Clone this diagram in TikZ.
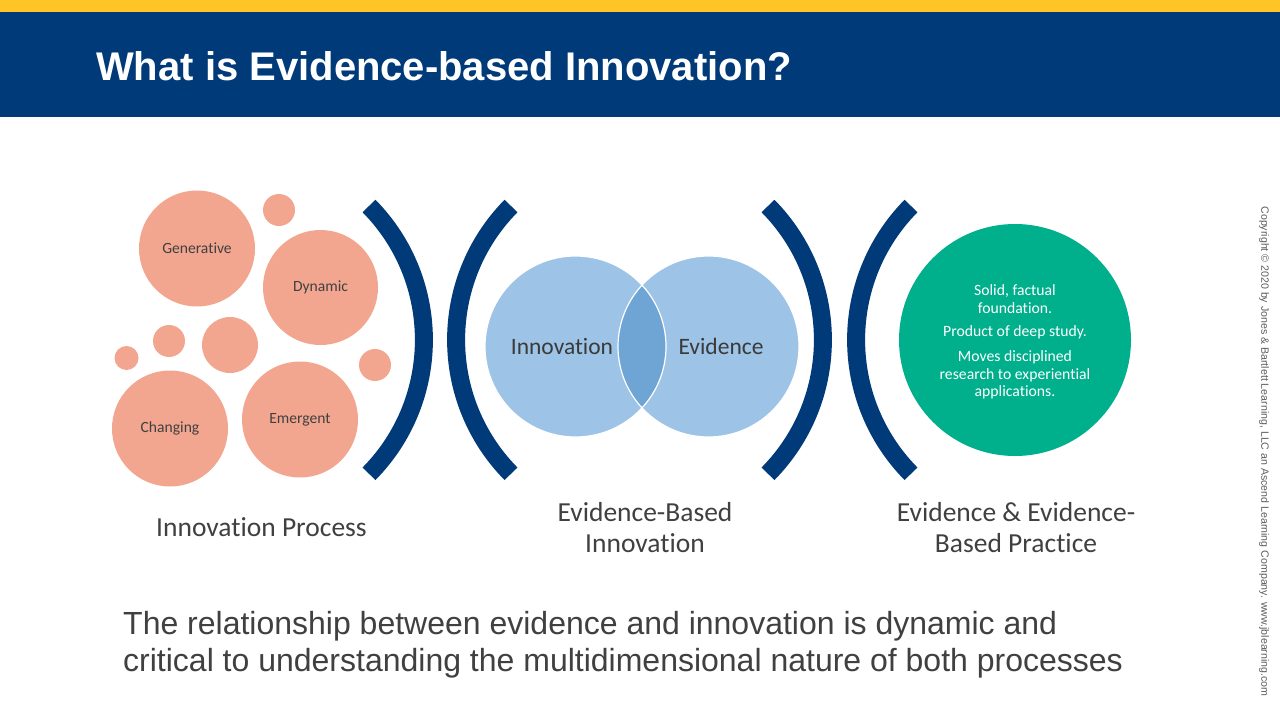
\documentclass[tikz,border=0pt]{standalone}
\usepackage{fontspec}
\setmainfont[Ligatures=NoCommon]{Carlito}
\newfontfamily\arialfont{Liberation Sans}
\usepackage{xcolor}
\usepackage{tikz}
\usetikzlibrary{positioning}
\definecolor{ebgold}{HTML}{FFC425}
\definecolor{ebnavy}{HTML}{003A78}
\definecolor{ebsalmon}{HTML}{F3A68F}
\definecolor{ebsky}{HTML}{9DC3E6}
\definecolor{ebskydark}{HTML}{6FA5D5}
\definecolor{ebgreen}{HTML}{00AF8C}
\definecolor{ebgray}{HTML}{404040}

\begin{document}
\begin{tikzpicture}[x=1pt,y=-1pt,inner sep=0pt,text=ebgray]
  \tikzstyle{bubble}=[circle,fill=ebsalmon,font=\fontsize{15.6}{18}\selectfont]
  \tikzstyle{dot}=[circle,fill=ebsalmon]
  \tikzstyle{venn}=[circle,fill=ebsky,minimum size=181pt]
  \tikzstyle{bracket}=[draw=ebnavy,line width=18pt]
  \tikzstyle{caption}=[align=center,font=\fontsize{27.5}{31}\selectfont]
  \useasboundingbox (0,0) rectangle (1280,720);
  \fill[white] (0,0) rectangle (1280,720);
  % header band
  \fill[ebgold] (0,0) rectangle (1280,12);
  \fill[ebnavy] (0,12) rectangle (1280,117);
  \node[anchor=base west,text=white,font=\arialfont\bfseries\fontsize{40}{48}\selectfont] (title) at (96,80) {What is Evidence-based Innovation?};
  % innovation process bubbles
  \node[bubble,minimum size=116pt] (gen) at (197,248.5) {Generative};
  \node[bubble,minimum size=115pt] (dyn) at (320.5,287.5) {Dynamic};
  \node[bubble,minimum size=116pt] (chg) at (170,428.5) {Changing};
  \node[bubble,minimum size=116pt] (emg) at (300,419.5) {Emergent};
  \node[dot,minimum size=32pt] (d1) at (279,210) {};
  \node[dot,minimum size=56pt] (d2) at (230,345) {};
  \node[dot,minimum size=32pt] (d3) at (169,341) {};
  \node[dot,minimum size=24pt] (d4) at (126.5,358) {};
  \node[dot,minimum size=32pt] (d5) at (375,365) {};
  % brackets
  \draw[bracket] (369,206) arc[start angle=44.6,end angle=-44.6,radius=190.7pt];
  \draw[bracket] (511,206) arc[start angle=135.4,end angle=224.6,radius=190.7pt];
  \draw[bracket] (768,206) arc[start angle=44.6,end angle=-44.6,radius=190.7pt];
  \draw[bracket] (911,206) arc[start angle=135.4,end angle=224.6,radius=190.7pt];
  % venn
  \node[venn] (inno) at (575.5,346.5) {};
  \node[venn] (evid) at (708.5,346.5) {};
  \begin{scope}
    \clip (inno.center) circle[radius=90.5pt];
    \fill[ebskydark] (evid.center) circle[radius=90.5pt];
  \end{scope}
  \draw[white,line width=1.2pt] (inno.center) circle[radius=90.5pt] (evid.center) circle[radius=90.5pt];
  \node[font=\fontsize{23.5}{28}\selectfont,text=ebgray!90!black] (innotext) at (562,346.5) {Innovation};
  \node[font=\fontsize{23.5}{28}\selectfont,text=ebgray!90!black] (evidtext) at (721,346.5) {Evidence};
  % evidence-based practice
  \node[circle,fill=ebgreen,minimum size=232pt] (ebp) at (1015,340) {};
  \node[align=center,text=white,font=\fontsize{15.7}{17.5}\selectfont] (ebptext) at (1015,342)
    {Solid, factual\\foundation.\\[6pt]Product of deep study.\\[7.5pt]Moves disciplined\\research to experiential\\applications.};
  % captions
  \node[caption,anchor=base] (cap1) at (261.5,536) {Innovation Process};
  \node[caption] (cap2) at (645,528) {Evidence-Based\\Innovation};
  \node[caption] (cap3) at (1016,528) {Evidence \& Evidence-\\Based Practice};
  % summary
  \node[anchor=base west,font=\arialfont\fontsize{32}{38}\selectfont] (line1) at (123,634) {The relationship between evidence and innovation is dynamic and};
  \node[anchor=base west,font=\arialfont\fontsize{32}{38}\selectfont] (line2) at (123,671) {critical to understanding the multidimensional nature of both processes};
  % copyright
  \node[rotate=-90,font=\arialfont\fontsize{10.6}{12}\selectfont,text=ebgray!85] (copy) at (1264,451.5) {Copyright \textcopyright{} 2020 by Jones \& Bartlett Learning, LLC an Ascend Learning Company. www.jblearning.com};
\end{tikzpicture}
\end{document}
